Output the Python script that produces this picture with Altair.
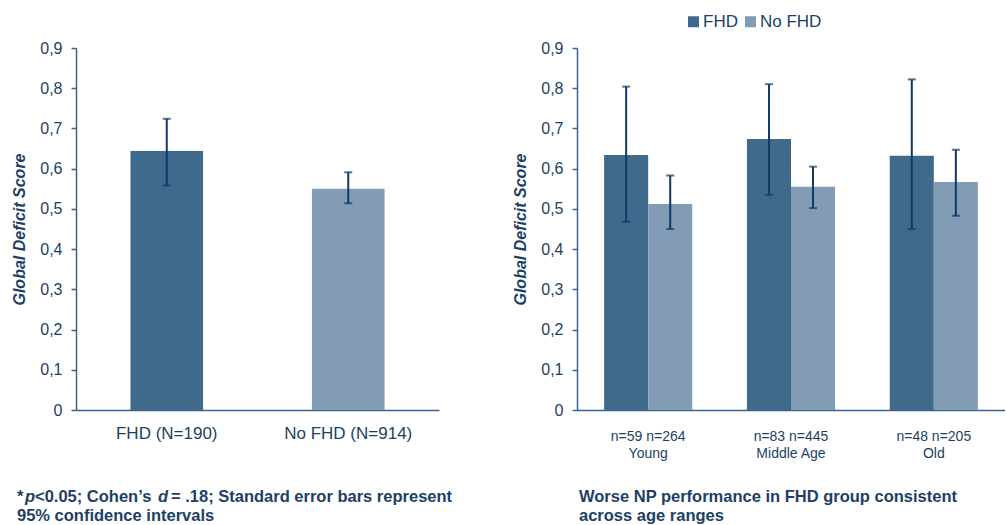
import altair as alt
import pandas as pd

# ---------------- data ----------------
groups_left = ["FHD (N=190)", "No FHD (N=914)"]
series_left = ["FHD", "No FHD"]
mean_left = [0.644, 0.550]
lo_left = [0.558, 0.514]
hi_left = [0.724, 0.591]

age_groups = ["Young", "Middle Age", "Old"]
n_fhd = [59, 83, 48]
n_nofhd = [264, 445, 205]
series = ["FHD", "No FHD"]
mean_fhd = [0.634, 0.674, 0.632]
lo_fhd = [0.468, 0.535, 0.450]
hi_fhd = [0.804, 0.810, 0.822]
mean_nofhd = [0.512, 0.555, 0.567]
lo_nofhd = [0.450, 0.502, 0.483]
hi_nofhd = [0.583, 0.605, 0.647]

y_ticks = [0, 0.1, 0.2, 0.3, 0.4, 0.5, 0.6, 0.7, 0.8, 0.9]

caption_left_pieces = ["*", "p", "<0.05; Cohen\u2019s", "d", "= .18; Standard error bars represent"]
caption_left_line2 = "95% confidence intervals"
caption_right_lines = ["Worse NP performance in FHD group consistent", "across age ranges"]

# ---------------- styles ----------------
NAVY = "#1d3f66"
ERR = "#0d3868"
AXIS = "#36648f"
C_FHD = "#3f6a8c"
C_NO = "#829cb5"
FONT = "Liberation Sans"

H = 362
W_LEFT = 363
W_RIGHT = 428

y_scale = alt.Scale(domain=[0, 0.9], nice=False, zero=True)


def y_axis():
    return alt.Axis(
        values=y_ticks,
        title="Global Deficit Score",
        labelExpr="datum.value == 0 ? '0' : replace(format(datum.value, '.1f'), '.', ',')",
        grid=False,
        domainColor=AXIS,
        domainWidth=1.5,
        tickColor=AXIS,
        tickSize=5,
        tickWidth=1.5,
        labelPadding=9,
        labelFontSize=16,
        labelColor=NAVY,
        labelFont=FONT,
        titleFont=FONT,
        titleFontSize=16,
        titleFontWeight="bold",
        titleFontStyle="italic",
        titleColor=NAVY,
        titleX=-52,
        titleY=H / 2,
        titleBaseline="alphabetic",
    )


color_scale = alt.Scale(domain=series, range=[C_FHD, C_NO])

# ---------------- left chart ----------------
df_left = pd.DataFrame({
    "group": groups_left,
    "series": series_left,
    "mean": mean_left,
    "lo": lo_left,
    "hi": hi_left,
})

x_left = alt.X(
    "group:N",
    sort=groups_left,
    scale=alt.Scale(paddingInner=0.6, paddingOuter=0.3),
    axis=alt.Axis(
        title=None,
        labelAngle=0,
        ticks=False,
        tickSize=0,
        grid=False,
        domainColor=AXIS,
        domainWidth=1.5,
        labelPadding=15,
        labelFontSize=17,
        labelColor=NAVY,
        labelFont=FONT,
    ),
)

base_left = alt.Chart(df_left)
bars_left = base_left.mark_bar().encode(
    x=x_left,
    y=alt.Y("mean:Q", scale=y_scale, axis=y_axis()),
    color=alt.Color("series:N", scale=color_scale, legend=None),
)
rule_left = base_left.mark_rule(color=ERR, strokeWidth=2).encode(
    x=alt.X("group:N", sort=groups_left), y="lo:Q", y2="hi:Q"
)
cap_hi_left = base_left.mark_tick(color=ERR, size=8, thickness=2).encode(
    x=alt.X("group:N", sort=groups_left), y="hi:Q"
)
cap_lo_left = base_left.mark_tick(color=ERR, size=8, thickness=2).encode(
    x=alt.X("group:N", sort=groups_left), y="lo:Q"
)


def caption(text, x, y, style="normal"):
    return alt.Chart(pd.DataFrame({"t": [text]})).mark_text(
        align="left", baseline="alphabetic", font=FONT, fontSize=16.5,
        fontWeight="bold", fontStyle=style, color=NAVY,
    ).encode(text="t:N", x=alt.value(x), y=alt.value(y))


cap_x = [-59, -51, -41, 82, 95]
cap_styles = ["normal", "italic", "normal", "italic", "normal"]
left_caps = [caption(t, x, 454, s) for t, x, s in zip(caption_left_pieces, cap_x, cap_styles)]
left_caps.append(caption(caption_left_line2, -59, 473))

no_view = alt.ViewBackground(stroke="transparent", strokeWidth=0)

left = alt.layer(bars_left, rule_left, cap_hi_left, cap_lo_left, *left_caps).properties(
    width=W_LEFT, height=H, view=no_view
)

# ---------------- right chart ----------------
labels = [f"n={a} n={b}|{g}" for a, b, g in zip(n_fhd, n_nofhd, age_groups)]
rows = []
for i, lab in enumerate(labels):
    rows.append({"label": lab, "series": "FHD", "mean": mean_fhd[i], "lo": lo_fhd[i], "hi": hi_fhd[i]})
    rows.append({"label": lab, "series": "No FHD", "mean": mean_nofhd[i], "lo": lo_nofhd[i], "hi": hi_nofhd[i]})
df_right = pd.DataFrame(rows)

x_right = alt.X(
    "label:N",
    sort=labels,
    scale=alt.Scale(paddingInner=0.383, paddingOuter=0.19),
    axis=alt.Axis(
        title=None,
        labelAngle=0,
        ticks=False,
        tickSize=0,
        grid=False,
        domainColor=AXIS,
        domainWidth=1.5,
        labelPadding=19,
        labelFontSize=14,
        labelLineHeight=17,
        labelColor=NAVY,
        labelFont=FONT,
        labelExpr="split(datum.label, '|')",
    ),
)
xoff = alt.XOffset("series:N", sort=series, scale=alt.Scale(paddingInner=0, paddingOuter=0))

base_right = alt.Chart(df_right)
bars_right = base_right.mark_bar().encode(
    x=x_right,
    xOffset=xoff,
    y=alt.Y("mean:Q", scale=y_scale, axis=y_axis()),
    color=alt.Color(
        "series:N",
        scale=color_scale,
        legend=alt.Legend(
            orient="none",
            legendX=108,
            legendY=-35,
            direction="horizontal",
            title=None,
            symbolType="square",
            symbolSize=121,
            symbolStrokeWidth=0,
            labelFontSize=17,
            labelFont=FONT,
            labelColor=NAVY,
            labelOffset=1,
            columnPadding=4,
            labelExpr="datum.label == 'FHD' ? '\u00a0\u00a0FHD' : datum.label",
        ),
    ),
)
rule_right = base_right.mark_rule(color=ERR, strokeWidth=2).encode(
    x=alt.X("label:N", sort=labels), xOffset=xoff, y="lo:Q", y2="hi:Q"
)
cap_hi_right = base_right.mark_tick(color=ERR, size=8, thickness=2).encode(
    x=alt.X("label:N", sort=labels), xOffset=xoff, y="hi:Q"
)
cap_lo_right = base_right.mark_tick(color=ERR, size=8, thickness=2).encode(
    x=alt.X("label:N", sort=labels), xOffset=xoff, y="lo:Q"
)
right_caps = [caption(caption_right_lines[0], 2, 454), caption(caption_right_lines[1], 2, 473)]

right = alt.layer(bars_right, rule_right, cap_hi_right, cap_lo_right, *right_caps).properties(
    width=W_RIGHT, height=H, view=no_view
)

chart = alt.hconcat(left, right, spacing=138, bounds="flush").resolve_scale(
    color="independent"
).resolve_legend(color="independent").properties(
    padding={"left": 11, "top": 13, "right": 0, "bottom": 0}
).configure_view(stroke="transparent", strokeWidth=0).configure_axis(grid=False).configure(font=FONT)

chart.save("out.html", embed_options={"renderer": "svg", "actions": False})
